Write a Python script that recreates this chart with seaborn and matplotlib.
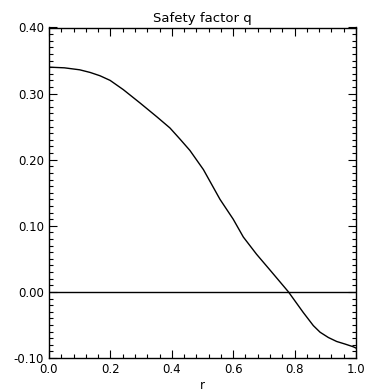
import matplotlib
matplotlib.use("Agg")
import matplotlib.pyplot as plt
import seaborn as sns
import pandas as pd
from matplotlib.ticker import MultipleLocator, FormatStrFormatter

r_vals = [0.0, 0.05, 0.10, 0.134, 0.166, 0.199, 0.242, 0.296, 0.351, 0.394,
          0.427, 0.459, 0.503, 0.557, 0.60, 0.633, 0.676, 0.72, 0.78, 0.828,
          0.861, 0.883, 0.91, 0.937, 0.965, 0.991, 1.0]
q_vals = [0.340, 0.339, 0.336, 0.332, 0.327, 0.320, 0.306, 0.286, 0.265,
          0.248, 0.231, 0.214, 0.185, 0.140, 0.110, 0.083, 0.057, 0.033,
          0.0, -0.031, -0.051, -0.061, -0.069, -0.075, -0.079, -0.083, -0.085]
title = "Safety factor q"
xlabel = "r"

df = pd.DataFrame({"r": r_vals, "q": q_vals})

sns.set_style("ticks")
plt.rcParams["font.family"] = ["DejaVu Sans"]
plt.rcParams["text.color"] = "black"
plt.rcParams["axes.labelcolor"] = "black"

fig = plt.figure(figsize=(3.67, 3.91), dpi=100)
ax = fig.add_axes([49/367, 1-358/391, (356-49)/367, (358-27.5)/391])

sns.lineplot(data=df, x="r", y="q", ax=ax, color="black", linewidth=1.0)
ax.axhline(0.0, color="black", linewidth=1.0)

ax.set_xlim(0, 1)
ax.set_ylim(-0.1, 0.4)
ax.xaxis.set_major_locator(MultipleLocator(0.2))
ax.xaxis.set_minor_locator(MultipleLocator(0.04))
ax.yaxis.set_major_locator(MultipleLocator(0.1))
ax.yaxis.set_minor_locator(MultipleLocator(0.01))
ax.xaxis.set_major_formatter(FormatStrFormatter("%.1f"))
ax.yaxis.set_major_formatter(FormatStrFormatter("%.2f"))
ax.tick_params(which="both", direction="in", top=True, right=True,
               colors="black", labelcolor="black", width=0.8, labelsize=8.5)
ax.tick_params(which="major", length=6)
ax.tick_params(which="minor", length=3)
for s in ax.spines.values():
    s.set_linewidth(1.0)
    s.set_color("black")

ax.set_title(title, fontsize=9.5, pad=4, color="black")
ax.set_xlabel(xlabel, fontsize=8.5, labelpad=2, color="black")
ax.set_ylabel("")

fig.savefig("out.png", dpi=100)
